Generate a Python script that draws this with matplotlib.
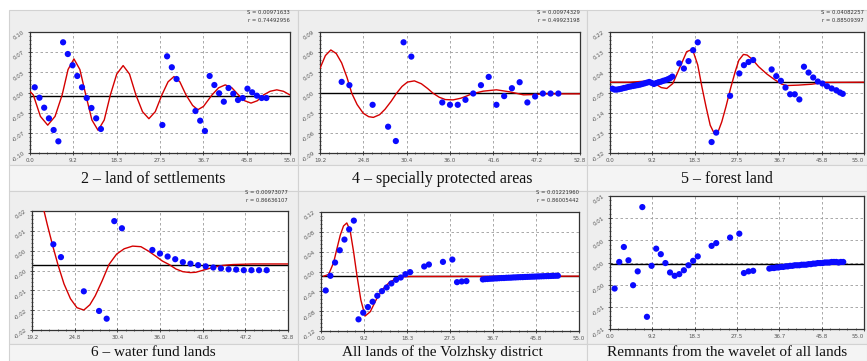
import numpy as np
import matplotlib
matplotlib.use('Agg')
import matplotlib.pyplot as plt
from matplotlib.patches import Rectangle
from matplotlib.ticker import FixedLocator, FixedFormatter, AutoMinorLocator

W, H = 867, 361

# ---------------------------------------------------------------- data
TITLES = ['2 \u2013 land of settlements', '4 \u2013 specially protected areas',
          '5 \u2013 forest land', '6 \u2013 water fund lands',
          'All lands of the Volzhsky district', 'Remnants from the wavelet of all lands']

STATS = [('S = 0.00971633', 'r = 0.74492956'),
         ('S = 0.00974329', 'r = 0.49923198'),
         ('S = 0.04082257', 'r = 0.88509397'),
         ('S = 0.00973077', 'r = 0.86636107'),
         ('S = 0.01221960', 'r = 0.86005442'),
         None]

XTICKS_A = ['0.0', '9.2', '18.3', '27.5', '36.7', '45.8', '55.0']
XTICKS_B = ['19.2', '24.8', '30.4', '36.0', '41.6', '47.2', '52.8']
XLIMS = [(0, 55), (19.2, 52.8), (0, 55), (19.2, 52.8), (0, 55), (0, 55)]
YLIMS = [(-0.10, 0.10), (-0.09, 0.09), (-0.32, 0.22), (-0.022, 0.018),
         (-0.12, 0.12), (-0.012, 0.012)]
YTICKS = [['-0.10', '-0.07', '-0.03', '0.00', '0.03', '0.07', '0.10'],
          ['-0.09', '-0.06', '-0.03', '0.00', '0.03', '0.06', '0.09'],
          ['-0.32', '-0.23', '-0.14', '-0.05', '0.04', '0.13', '0.22'],
          ['-0.02', '-0.02', '-0.01', '-0.00', '0.00', '0.01', '0.02'],
          ['-0.12', '-0.08', '-0.04', '0.00', '0.04', '0.08', '0.12'],
          ['-0.01', '-0.01', '-0.00', '0.00', '0.00', '0.01', '0.01']]
BASELINE = [-0.005, -0.001, -0.003, 0.0, -0.0095, -0.0003]

# 2 - land of settlements
P1_X = [1, 2, 3, 4, 5, 6, 7, 8, 9, 10, 11, 12, 13, 14, 15,
        28, 29, 30, 31, 35, 36, 37, 38, 39, 40, 41, 42, 43, 44, 45, 46, 47, 48, 49, 50]
P1_Y = [0.0086, -0.0086, -0.0251, -0.0427, -0.062, -0.0807, 0.083, 0.0636, 0.045, 0.0273,
        0.0086, -0.0091, -0.0256, -0.0427, -0.0603,
        -0.0537, 0.0598, 0.0417, 0.0223, -0.0306, -0.0466, -0.0636, 0.0273, 0.0124, -0.0013,
        -0.0152, 0.0074, -0.002, -0.0124, -0.0091, 0.0063, 0.0003, -0.0053, -0.0091, -0.0091]
P1_FIT_X = [0, 0.7, 2.2, 3.75, 5.3, 6.8, 8.05, 9.3, 10.55, 11.8, 13.1, 14.4, 15.7, 17.0,
            18.35, 19.7, 21.05, 22.4, 23.8, 25.15, 26.5, 27.9, 29.2, 30.45, 31.7, 33.0,
            34.4, 35.5, 36.7, 38.5, 39.9, 41.3, 42.7, 44.1, 45.4, 46.75, 48.1, 49.4,
            50.8, 52.2, 53.6, 55.0]
P1_FIT_Y = [0.0016, -0.004, -0.0395, -0.054, -0.0395, -0.004, 0.038, 0.0555, 0.038, -0.004,
            -0.0455, -0.0625, -0.0455, -0.004, 0.0305, 0.0445, 0.0305, -0.004, -0.0317,
            -0.0433, -0.0317, -0.004, 0.0176, 0.0264, 0.0176, -0.004, -0.0214, -0.0285,
            -0.023, -0.004, 0.0078, 0.0126, 0.0078, -0.004, -0.0136, -0.0175, -0.0136,
            -0.004, 0.002, 0.0044, 0.002, -0.004]

# 4 - specially protected areas
P2_X = [22, 23, 26, 28, 29, 30, 31, 35, 36, 37, 38, 39, 40, 41, 42, 43, 44, 45, 46, 47, 48, 49, 50]
P2_Y = [0.0158, 0.0109, -0.0183, -0.0509, -0.0722, 0.0747, 0.0534, -0.0148, -0.0183, -0.0183,
        -0.0109, -0.0015, 0.0109, 0.0232, -0.0183, -0.0054, 0.0064, 0.0153, -0.0148, -0.0059,
        -0.0015, -0.0015, -0.0015]
P2_FIT_X = [19.2, 19.9, 20.6, 21.3, 22.0, 22.7, 23.3, 24.0, 24.8, 25.5, 26.1, 26.9, 27.6,
            28.4, 29.1, 29.8, 30.5, 31.4, 32.3, 33.1, 33.8, 34.6, 35.4, 36.4, 37.4, 38.2,
            38.8, 40.3, 42.0, 43.7, 45.5, 47.0, 48.1, 50.0, 52.8]
P2_FIT_Y = [0.036, 0.055, 0.0633, 0.058, 0.044, 0.022, -0.001, -0.018, -0.031, -0.036, -0.037,
            -0.033, -0.025, -0.013, -0.001, 0.009, 0.0155, 0.0173, 0.013, 0.006, -0.001, -0.007,
            -0.0105, -0.011, -0.0085, -0.005, -0.002, 0.002, 0.004, 0.001, -0.0035, -0.003,
            -0.002, -0.002, -0.002]

# 5 - forest land
P3_X = [0.5, 1.0, 1.5, 2.0, 2.5, 3.0, 3.5, 4.0, 4.5, 5.0, 5.5, 6.0, 6.5, 7.0, 7.5, 8.0, 8.5,
        9.0, 9.5, 10.0, 10.5, 11.0, 11.5, 12.0, 12.5, 13.0, 13.5,
        15, 16, 17, 18, 19, 22, 23, 26, 28, 29, 30, 31, 35, 36, 37, 38, 39, 40, 41,
        42, 43, 44, 45, 46, 47, 48, 49, 49.8, 50.4]
P3_Y = [-0.033, -0.037, -0.037, -0.035, -0.033, -0.030, -0.028, -0.025, -0.023, -0.021,
        -0.019, -0.017, -0.015, -0.012, -0.009, -0.006, -0.003, -0.007, -0.012, -0.008,
        -0.004, -0.002, 0.002, 0.005, 0.009, 0.014, 0.021,
        0.080, 0.057, 0.090, 0.139, 0.174, -0.271, -0.229, -0.065, 0.035, 0.072, 0.086, 0.095,
        0.053, 0.023, 0.002, -0.028, -0.058, -0.058, -0.081,
        0.065, 0.039, 0.017, -0.001, -0.010, -0.022, -0.032, -0.040, -0.050, -0.056]
P3_FIT_X = [0, 4.3, 7.9, 9.7, 11.1, 12.3, 13.6, 14.7, 15.8, 16.6, 17.4, 18.1, 19.0, 19.9,
            20.8, 21.7, 22.6, 23.3, 24.2, 25.1, 26.1, 27.1, 27.9, 28.9, 29.7, 30.8, 32.2,
            34.0, 35.8, 37.2, 38.3, 40.8, 43.7, 46.5, 55.0]
P3_FIT_Y = [-0.004, -0.004, 0.001, -0.010, -0.028, -0.032, -0.010, 0.042, 0.094, 0.132,
            0.139, 0.128, 0.073, -0.025, -0.114, -0.196, -0.234, -0.231, -0.181, -0.114,
            -0.032, 0.042, 0.094, 0.120, 0.117, 0.098, 0.065, 0.032, 0.005, -0.013, -0.019,
            -0.017, -0.013, -0.005, -0.004]

# 6 - water fund lands
P4_X = [22, 23, 26, 28, 29, 30, 31, 35, 36, 37, 38, 39, 40, 41, 42, 43, 44, 45, 46, 47, 48, 49, 50]
P4_Y = [0.0068, 0.0025, -0.0090, -0.0156, -0.0182, 0.0146, 0.0122, 0.0049, 0.0037, 0.0027,
        0.0018, 0.0008, 0.0003, -0.0002, -0.0006, -0.0010, -0.0013, -0.0016, -0.0017,
        -0.0019, -0.0019, -0.0019, -0.0019]
P4_FIT_X = [20.5, 21.2, 21.9, 22.6, 23.4, 24.25, 25.1, 26.0, 26.8, 27.5, 28.4, 29.3, 30.3,
            31.3, 32.4, 33.5, 34.5, 35.45, 36.3, 37.2, 38.1, 39.0, 40.0, 40.7, 41.8, 42.9,
            44.2, 45.55, 48.2, 52.8]
P4_FIT_Y = [0.021, 0.0135, 0.0065, 0.0, -0.0065, -0.0115, -0.0145, -0.0153, -0.0135, -0.0105,
            -0.0055, 0.0, 0.0035, 0.0053, 0.0062, 0.006, 0.0045, 0.0028, 0.0012, 0.0, -0.0015,
            -0.0024, -0.0027, -0.0026, -0.0018, -0.001, -0.0003, 0.0, 0.0002, 0.0002]

# all lands of the Volzhsky district
P5_X = [1, 2, 3, 4, 5, 6, 7, 8, 9, 10, 11, 12, 13, 14, 15, 16, 17, 18, 19, 22, 23, 26, 28,
        29, 30, 31,
        34.5, 35.0, 35.5, 36.0, 36.5, 37.0, 37.5, 38.0, 38.5, 39.0, 39.5, 40.0, 40.5, 41.0,
        41.5, 42.0, 42.5, 43.0, 43.5, 44.0, 44.5, 45.0, 45.5, 46.0, 46.5, 47.0, 47.5, 48.0,
        48.5, 49.0, 49.5, 50.0, 50.5]
P5_Y = [-0.0382, -0.0087, 0.0181, 0.0429, 0.0644, 0.0851, 0.1026, -0.0965, -0.0831, -0.0717,
        -0.0610, -0.0489, -0.0396, -0.0322, -0.0241, -0.0168, -0.0121, -0.0054, -0.0013,
        0.0101, 0.0141, 0.0194, 0.0241, -0.0215, -0.0201, -0.0194,
        -0.0160, -0.0153, -0.0151, -0.0146, -0.0144, -0.0140, -0.0139, -0.0135, -0.0132,
        -0.0131, -0.0127, -0.0125, -0.0124, -0.0120, -0.0119, -0.0116, -0.0114, -0.0113,
        -0.0110, -0.0108, -0.0106, -0.0104, -0.0103, -0.0100, -0.0099, -0.0097, -0.0095,
        -0.0093, -0.0092, -0.0090, -0.0088, -0.0086, -0.0085]
P5_FIT_X = [0.57, 1.63, 2.69, 3.4, 4.1, 4.8, 5.5, 6.2, 6.95, 7.65, 8.5, 9.4, 10.5, 11.9,
            13.3, 14.7, 16.2, 17.6, 19.0, 55.0]
P5_FIT_Y = [-0.0094, -0.006, 0.0181, 0.0463, 0.0731, 0.0918, 0.0979, 0.0831, 0.0396, -0.0074,
            -0.0577, -0.0898, -0.0811, -0.0543, -0.0342, -0.0208, -0.0141, -0.0107, -0.0101,
            -0.0094]

# remnants from the wavelet of all lands
P6_X = [1, 2, 3, 4, 5, 6, 7, 8, 9, 10, 11, 12, 13, 14, 15, 16, 17, 18, 19, 22, 23, 26, 28,
        29, 30, 31,
        34.5, 35.0, 35.5, 36.0, 36.5, 37.0, 37.5, 38.0, 38.5, 39.0, 39.5, 40.0, 40.5, 41.0,
        41.5, 42.0, 42.5, 43.0, 43.5, 44.0, 44.5, 45.0, 45.5, 46.0, 46.5, 47.0, 47.5, 48.0,
        48.5, 49.0, 49.5, 50.0, 50.5]
P6_Y = [-0.0047, 0.0001, 0.0028, 0.0004, -0.0041, -0.0016, 0.0100, -0.0098, -0.0006, 0.0025,
        0.0015, -0.0001, -0.0018, -0.0024, -0.0021, -0.0014, -0.0005, 0.0003, 0.0011,
        0.0030, 0.0035, 0.0045, 0.0052, -0.0019, -0.0016, -0.0015,
        -0.0011, -0.0010, -0.0010, -0.0009, -0.0009, -0.0008, -0.0008, -0.0007, -0.0007,
        -0.0006, -0.0006, -0.0005, -0.0005, -0.0005, -0.0004, -0.0004, -0.0004, -0.0003,
        -0.0003, -0.0002, -0.0002, -0.0001, -0.0001, -0.0001, 0.0000, 0.0000, 0.0000,
        0.0001, 0.0001, 0.0001, 0.0000, 0.0001, 0.0001]

POINTS = [(P1_X, P1_Y), (P2_X, P2_Y), (P3_X, P3_Y), (P4_X, P4_Y), (P5_X, P5_Y), (P6_X, P6_Y)]
FITS = [(P1_FIT_X, P1_FIT_Y), (P2_FIT_X, P2_FIT_Y), (P3_FIT_X, P3_FIT_Y),
        (P4_FIT_X, P4_FIT_Y), (P5_FIT_X, P5_FIT_Y), None]

# ---------------------------------------------------------------- layout (pixels, y from top)
AX_BOXES = [(30, 32, 290, 153), (320, 32, 580, 153), (610, 32, 864, 153),
            (32, 211, 288, 330), (321, 212, 579, 331), (610, 196, 864, 329)]
COLS = [(9, 298), (298, 587), (587, 867)]
ROWS = [(10, 165, 165, 191), (191, 344, 344, 361)]


def fig_rect(x0, y0, x1, y1):
    return [x0 / W, 1 - y1 / H, (x1 - x0) / W, (y1 - y0) / H]


def draw_cells(fig):
    for (c0, c1) in COLS:
        for (r0, r1, t0, t1) in ROWS:
            for (a, b, fc) in [(r0, r1, '#eeeeee'), (t0, t1, '#f4f4f4')]:
                fig.add_artist(Rectangle((c0 / W, 1 - b / H), (c1 - c0) / W, (b - a) / H,
                                         transform=fig.transFigure, facecolor=fc,
                                         edgecolor='#d2d2d2', linewidth=0.8, zorder=0))


def draw_panel(fig, i):
    ax = fig.add_axes(fig_rect(*AX_BOXES[i]))
    ax.set_facecolor('white')
    x0, x1 = XLIMS[i]
    y0, y1 = YLIMS[i]
    ax.set_xlim(x0, x1)
    ax.set_ylim(y0, y1)

    ax.xaxis.set_major_locator(FixedLocator(np.linspace(x0, x1, 7)))
    ax.xaxis.set_major_formatter(FixedFormatter(XTICKS_B if x0 > 0 else XTICKS_A))
    ax.yaxis.set_major_locator(FixedLocator(np.linspace(y0, y1, 7)))
    ax.yaxis.set_major_formatter(FixedFormatter(YTICKS[i]))
    ax.yaxis.set_minor_locator(AutoMinorLocator(5))
    ax.xaxis.set_minor_locator(AutoMinorLocator(5))
    ax.tick_params(which='major', length=2.5, width=0.6, direction='inout',
                   labelsize=4, labelcolor='#555555', pad=2, colors='#333333')
    ax.tick_params(axis='y', which='major', labelrotation=35)
    ax.tick_params(which='minor', length=1.5, width=0.5, direction='inout', color='#333333')
    ax.grid(True, which='major', linestyle=(0, (3, 3)), color='#9a9a9a', linewidth=0.6)
    for sp in ax.spines.values():
        sp.set_color('#333333')
        sp.set_linewidth(0.9)
    if i in (2, 5):
        # right-hand panels reach the picture edge
        ax.get_xticklabels()[-1].set_horizontalalignment('right')

    ax.axhline(BASELINE[i], color='black', linewidth=1.0, zorder=2)
    if FITS[i] is not None:
        fx, fy = FITS[i]
        ax.plot(fx, fy, color='#d40000', linewidth=1.0, zorder=3)
    px, py = POINTS[i]
    ax.scatter(px, py, s=20, color='#0a0aff', edgecolors='none', zorder=4)

    if STATS[i] is not None:
        bx0, by0, bx1, by1 = AX_BOXES[i]
        fig.text(bx1 / W, 1 - (by0 - 19) / H, STATS[i][0], fontsize=3.8, color='#333333',
                 ha='right', va='center')
        fig.text(bx1 / W, 1 - (by0 - 11) / H, STATS[i][1], fontsize=3.8, color='#333333',
                 ha='right', va='center')


def main():
    fig = plt.figure(figsize=(W / 100, H / 100), dpi=100)
    fig.patch.set_facecolor('white')
    draw_cells(fig)
    for i in range(6):
        draw_panel(fig, i)

    for i, title in enumerate(TITLES):
        c0, c1 = COLS[i % 3]
        cy = 179 if i < 3 else 352
        size = 11.5 if i < 3 else 11
        fig.text((c0 + c1) / 2 / W, 1 - cy / H, title, fontsize=size,
                 family='Liberation Serif', ha='center', va='center', color='#111111')

    fig.savefig('out.png', dpi=100)


if __name__ == '__main__':
    main()
